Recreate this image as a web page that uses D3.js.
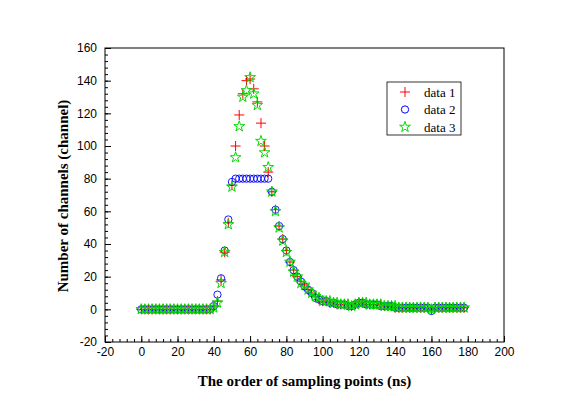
<!DOCTYPE html>
<html>
<head>
<meta charset="utf-8">
<script src="https://cdn.jsdelivr.net/npm/d3@7"></script>
<style>
  body { margin: 0; background: #fff; }
  .tick text { font-family: "Liberation Sans", Arial, sans-serif; font-size: 12px; fill: #000; }
</style>
</head>
<body>
<div id="chart"></div>
<script>
var width = 585;
var height = 414;
var margin = {top: 48, left: 105, right: 81, bottom: 70};

// sampling points 0..178 ns, every 2 ns
var xs = d3.range(0, 180, 2);

var data1 = [0,0,0,0,0,0,0,0,0,0, 0,0,0,0,0,0,0,0,0,0,
  2,5,18,35,53,76,100,119,132,140, 141,135,127,114,100,84,72,61,51,43,
  36,29,24,20,17,15,12,10,8,6, 5,5,4,4,3,3,3,3,2,3,
  4,4,3,3,3,3,3,2,2,2, 1,1,1,1,1,1,1,1,1,1,
  0,1,1,1,1,1,1,1,1,1];
var data2 = [0,0,0,0,0,0,0,0,0,0, 0,0,0,0,0,0,0,0,0,0,
  2,9,19,36,55,78,80,80,80,80, 80,80,80,80,80,80,72,61,51,43,
  36,29,24,20,17,14,12,10,7,6, 5,5,4,4,3,3,3,2,2,3,
  4,4,3,3,3,3,2,2,2,2, 1,1,1,1,1,1,1,1,1,1,
  -1,1,1,1,1,1,1,1,1,1];
var data3 = [0,0,0,0,0,0,0,0,0,0, 0,0,0,0,0,0,0,0,0,0,
  1,4,16,35,52,75,93,112,130,134, 142,132,125,103,96,87,72,60,50,42,
  35,29,23,20,16,15,12,10,8,7, 5,5,5,4,4,3,3,3,2,3,
  4,4,4,3,3,3,3,2,2,2, 2,1,1,1,1,1,1,1,1,1,
  0,1,1,1,1,1,1,1,1,1];

var seriesNames = ["data 1", "data 2", "data 3"];
var seriesColors = ["#ff0000", "#0000ff", "#00dd00"];
var xTicks = [-20,0,20,40,60,80,100,120,140,160,180,200];
var yTicks = [-20,0,20,40,60,80,100,120,140,160];

var svg = d3.select("#chart")
  .append("svg")
  .attr("width", width)
  .attr("height", height);

var xScale = d3.scaleLinear()
  .domain([-20, 200])
  .range([margin.left, width - margin.right]);

var plotBottom = height - margin.bottom - 2;

var yScale = d3.scaleLinear()
  .domain([-20, 160])
  .range([plotBottom, margin.top]);

// plain hyphen for negatives, like the original
var fmt = function(d) { return String(d); };

// minor ticks every 4
svg.append("g")
  .attr("transform", `translate(0,${plotBottom})`)
  .call(d3.axisBottom(xScale).tickValues(d3.range(-20, 201, 4)).tickSize(-3).tickFormat(""))
  .call(g => g.select(".domain").remove());
svg.append("g")
  .attr("transform", `translate(${margin.left},0)`)
  .call(d3.axisLeft(yScale).tickValues(d3.range(-20, 161, 4)).tickSize(-3).tickFormat(""))
  .call(g => g.select(".domain").remove());

// major ticks
svg.append("g")
  .attr("transform", `translate(0,${plotBottom})`)
  .call(d3.axisBottom(xScale).tickValues(xTicks).tickSize(-6).tickPadding(5).tickFormat(fmt))
  .call(g => g.select(".domain").remove());
svg.append("g")
  .attr("transform", `translate(${margin.left},0)`)
  .call(d3.axisLeft(yScale).tickValues(yTicks).tickSize(-6).tickPadding(8).tickFormat(fmt))
  .call(g => g.select(".domain").remove());

// frame
svg.append("rect")
  .attr("x", margin.left)
  .attr("y", margin.top)
  .attr("width", width - margin.right - margin.left)
  .attr("height", plotBottom - margin.top)
  .attr("fill", "none")
  .attr("stroke", "#000")
  .attr("stroke-width", 1);

var plus = "M-5,0H5M0,-5V5";
var circ = d3.symbol().type(d3.symbolCircle).size(42);
var star = d3.symbol().type(d3.symbolStar).size(36);

// data 1: plus
svg.append("g").selectAll("path")
  .data(data1)
  .enter()
  .append("path")
    .attr("transform", function(d, i) { return `translate(${xScale(xs[i])},${yScale(d)})`; })
    .attr("d", plus)
    .attr("fill", "none")
    .attr("stroke", seriesColors[0])
    .attr("stroke-width", 1);

// data 2: circles
svg.append("g").selectAll("path")
  .data(data2)
  .enter()
  .append("path")
    .attr("transform", function(d, i) { return `translate(${xScale(xs[i])},${yScale(d)})`; })
    .attr("d", circ)
    .attr("fill", "none")
    .attr("stroke", seriesColors[1])
    .attr("stroke-width", 0.9);

// data 3: stars
svg.append("g").selectAll("path")
  .data(data3)
  .enter()
  .append("path")
    .attr("transform", function(d, i) { return `translate(${xScale(xs[i])},${yScale(d)})`; })
    .attr("d", star)
    .attr("fill", "none")
    .attr("stroke", seriesColors[2])
    .attr("stroke-width", 1);

// legend
var legend = svg.append("g").attr("transform", "translate(387,82)");
legend.append("rect")
  .attr("width", 74)
  .attr("height", 53)
  .attr("fill", "#fff")
  .attr("stroke", "#000")
  .attr("stroke-width", 0.8);
var shapes = [plus, circ(), star()];
seriesNames.forEach(function(name, i) {
  var y = 10 + i * 17.5;
  legend.append("path")
    .attr("transform", `translate(18,${y})`)
    .attr("d", shapes[i])
    .attr("fill", "none")
    .attr("stroke", seriesColors[i]);
  legend.append("text")
    .attr("x", 37)
    .attr("y", y + 4.5)
    .attr("font-family", "Liberation Serif, Times New Roman, serif")
    .attr("font-size", 13)
    .text(name);
});

// axis titles
svg.append("text")
  .attr("x", (margin.left + width - margin.right) / 2)
  .attr("y", 386)
  .attr("text-anchor", "middle")
  .attr("font-family", "Liberation Serif, Times New Roman, serif")
  .attr("font-weight", "bold")
  .attr("font-size", 15)
  .text("The order of sampling points (ns)");

svg.append("text")
  .attr("transform", "translate(68,196) rotate(-90)")
  .attr("text-anchor", "middle")
  .attr("font-family", "Liberation Serif, Times New Roman, serif")
  .attr("font-weight", "bold")
  .attr("font-size", 15)
  .text("Number of channels (channel)");
</script>
</body>
</html>
